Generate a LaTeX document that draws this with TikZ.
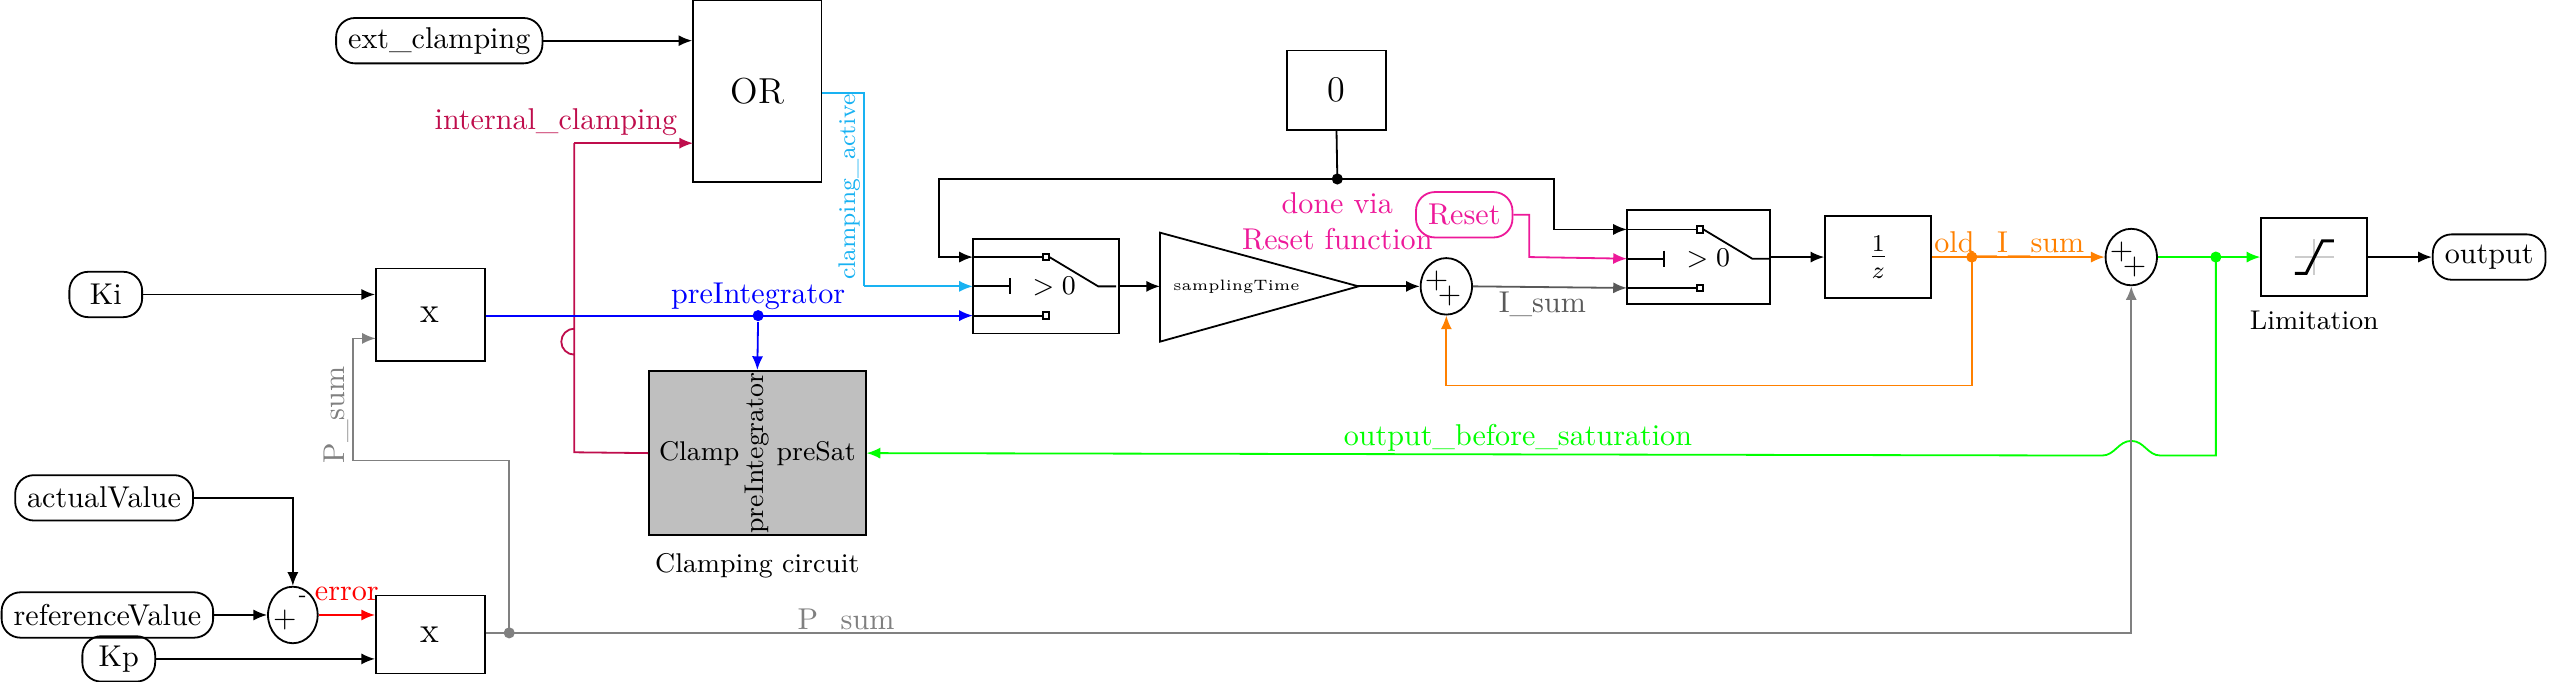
\documentclass[tikz,border=0pt]{standalone}
\usetikzlibrary{arrows.meta,calc,positioning,shapes.geometric}
\definecolor{cclamp}{rgb}{0.75,0.05,0.3}
\definecolor{cact}{rgb}{0.1,0.7,0.95}
\definecolor{cres}{rgb}{0.93,0.1,0.6}
\definecolor{corg}{rgb}{1,0.5,0}
\definecolor{cgrn}{rgb}{0,1,0}
\begin{document}
\begin{tikzpicture}[x=0.19mm,y=-0.19mm,line width=0.6pt,
  io/.style={draw,rounded corners=2.2mm,inner xsep=4pt,inner ysep=2pt,minimum height=5.3mm,minimum width=8.5mm},
  box/.style={draw,inner sep=0pt},
  sum/.style={draw,ellipse,minimum width=6mm,minimum height=6.6mm,inner sep=0pt},
  arr/.style={-{Latex[length=1.6mm,width=1.3mm]}},
  dot/.style={circle,fill,inner sep=0pt,minimum size=1.3mm}]
\useasboundingbox (0,0) rectangle (1568,419);
% blocks
\node[io] (ext) at (270,25) {ext\_clamping};
\node[box,minimum width=15mm,minimum height=21.3mm] (or) at (465.5,56) {\large OR};
\node[io] (ki) at (65,181) {Ki};
\node[box,minimum width=12.7mm,minimum height=10.8mm] (x1) at (264.5,193.5) {\large x};
\node[box,fill=black!25,minimum width=25.3mm,minimum height=19.2mm] (cc) at (465.5,278.5) {};
\node[anchor=west,font=\small] at (cc.west) {Clamp};
\node[anchor=east,font=\small] at (cc.east) {preSat};
\node[rotate=90,font=\small] at (cc.center) {preIntegrator};
\node[below=2pt of cc, font=\small] {Clamping circuit};
\node[io] (av) at (64,306) {actualValue};
\node[io] (rv) at (66,378) {referenceValue};
\node[io] (kp) at (73,405) {Kp};
\node[sum,minimum width=5.8mm] (s0) at (180,378) {};
\node at ($(s0.center)+(-5,3)$) {$+$};
\node at ($(s0.center)+(6,-10)$) {\scriptsize -};
\node[box,minimum width=12.7mm,minimum height=9.1mm] (x2) at (264.5,390) {\large x};
\node[box,minimum width=11.6mm,minimum height=9.3mm] (zero) at (821.5,55.5) {\large 0};
% switches
\node[box,minimum width=17.1mm,minimum height=11mm] (sw1) at (643,176) {};
\node[box,minimum width=16.7mm,minimum height=11mm] (sw2) at (1044,158) {};
\foreach \s/\ox/\oy in {sw1/598/147,sw2/1000/130}{
  \begin{scope}[shift={(\ox,\oy)}]
   \coordinate (\s i1) at (0,11); \coordinate (\s i2) at (0,29); \coordinate (\s i3) at (0,47);
   \draw (0,11) -- (43,11); \draw (43,9) rectangle (47,13);
   \draw (0,47) -- (43,47); \draw (43,45) rectangle (47,49);
   \draw (0,29) -- (23,29); \draw (23,24) -- (23,34);
   \node[font=\small] at (50,29) {$>0$};
   \draw (47,11) -- (77,29) -- (88,29);
  \end{scope}}
\coordinate (gin) at (713,176);
\coordinate (gout) at (835,176);
\draw (713,143) -- (gout) -- (713,210) -- cycle;
\node[font=\tiny] at (760,176) {samplingTime};
\node[sum] (s1) at (889,176) {};
\node at ($(s1.center)+(-6,-3)$) {$+$};
\node at ($(s1.center)+(2,6)$) {$+$};
\node[io,draw=cres,text=cres] (rst) at (900,132) {Reset};
\node[box,minimum width=12.4mm,minimum height=9.5mm] (uz) at (1154.5,158) {\large$\frac{1}{z}$};
\node[sum] (s2) at (1310,158) {};
\node at ($(s2.center)+(-6,-3)$) {$+$};
\node at ($(s2.center)+(2,6)$) {$+$};
\node[box,minimum width=12.4mm,minimum height=9.1mm] (lim) at (1422.5,158) {};
\draw[black!20] ($(lim.center)+(-12,0)$) -- ($(lim.center)+(12,0)$) ($(lim.center)+(0,-11)$) -- ($(lim.center)+(0,11)$);
\draw[line width=1pt] ($(lim.center)+(-12,10)$) -- ($(lim.center)+(-5,10)$) -- ($(lim.center)+(5,-10)$) -- ($(lim.center)+(12,-10)$);
\node[below=1pt of lim,font=\small] {Limitation};
\node[io] (out) at (1530,158) {output};
% connectors
\draw[arr] (ext) -- (ext-|or.west);
\draw[arr] (ki) -- (ki-|x1.west);
\draw[arr] (av.east) -| (s0.north);
\draw[arr] (rv) -- (s0.west);
\draw[arr,red] (s0.east) -- (s0-|x2.west) node[midway,above=1pt] {error};
\draw[arr] (kp) -- (kp-|x2.west);
\draw[cclamp] (cc.west) -- (353,278) -- (353,202) arc[start angle=-90,end angle=-270,radius=8] -- (353,88);
\draw[arr,cclamp] (353,88) -- (426,88);
\node[cclamp,anchor=east] at (423,75) {internal\_clamping};
\draw[cact] (or.east|-0,57) -- (531,57) -- (531,176);
\draw[arr,cact] (531,176) -- (sw1i2);
\node[cact,rotate=90,font=\footnotesize] at (522,115) {clamping\_active};
\draw[arr,blue] (x1.east|-0,194) -- (sw1i3);
\node[dot,blue] (bd) at (466,194) {};
\draw[arr,blue] (bd) -- (cc.north);
\node[blue] at (466,182) {preIntegrator};
\coordinate (zd) at (822,110);
\draw (zero.south) -- (zd);
\node[dot] at (zd) {};
\draw[arr] (zd) -- (577,110) -- (577,158) -- (sw1i1);
\draw[arr] (zd) -- (955,110) -- (955,141) -- (sw2i1);
\node[cres,align=center] at (822,136) {done via\\Reset function};
\draw[arr] (sw1.east) -- (gin);
\draw[arr] (gout) -- (s1.west);
\draw[arr,black!65] (s1.east) -- (sw2i3);
\node[black!65] at (948,187) {I\_sum};
\draw[arr,cres] (rst.east) -- (940,132) -- (940,158) -- (sw2i2);
\draw[arr] (sw2.east) -- (uz.west);
\coordinate (od) at (1212,158);
\draw[arr,corg] (uz.east) -- (s2.west);
\node[dot,corg] at (od) {};
\node[corg] at (1235,150) {old\_I\_sum};
\draw[arr,corg] (od) -- (1212,237) -- (889,237) -- (s1.south);
\coordinate (gd) at (1362,158);
\draw[cgrn] (s2.east) -- (gd);
\node[dot,cgrn] at (gd) {};
\draw[arr,cgrn] (gd) -- (lim.west);
\draw[arr,cgrn] (gd) -- (1362,280) -- (1328,280) .. controls (1320,280) and (1318,271) .. (1310,271) .. controls (1302,271) and (1300,280) .. (1292,280) -- (cc.east);
\node[cgrn] at (933,269) {output\_before\_saturation};
\draw[arr] (lim.east) -- (out.west);
\coordinate (pd) at (313,389);
\draw[arr,black!50] (x2.east|-pd) -- (1310,389) -- (s2.south);
\node[dot,black!50] at (pd) {};
\node[black!50] at (520,382) {P\_sum};
\draw[arr,black!50] (pd) -- (313,283) -- (217,283) -- (217,208) -- (231,208);
\node[black!50,rotate=90] at (207,255) {P\_sum};
\end{tikzpicture}
\end{document}
